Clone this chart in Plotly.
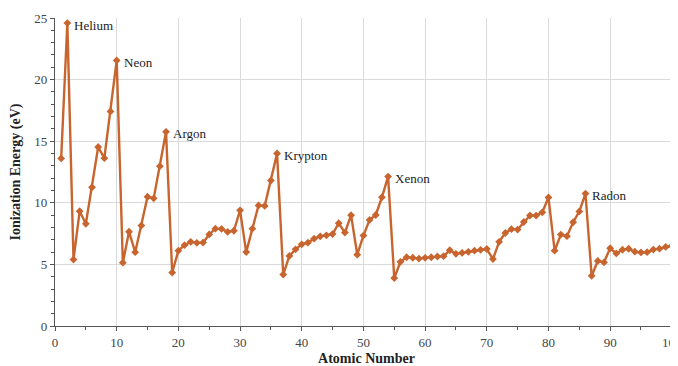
import plotly.graph_objects as go

atomic_number = list(range(1, 103))
ionization_ev = [
    13.60, 24.59, 5.39, 9.32, 8.30, 11.26, 14.53, 13.62, 17.42, 21.56,
    5.14, 7.65, 5.99, 8.15, 10.49, 10.36, 12.97, 15.76, 4.34, 6.11,
    6.56, 6.83, 6.75, 6.77, 7.43, 7.90, 7.88, 7.64, 7.73, 9.39,
    6.00, 7.90, 9.79, 9.75, 11.81, 14.00, 4.18, 5.69, 6.22, 6.63,
    6.76, 7.09, 7.28, 7.36, 7.46, 8.34, 7.58, 8.99, 5.79, 7.34,
    8.61, 9.01, 10.45, 12.13, 3.89, 5.21, 5.58, 5.54, 5.47, 5.53,
    5.58, 5.64, 5.67, 6.15, 5.86, 5.94, 6.02, 6.11, 6.18, 6.25,
    5.43, 6.83, 7.55, 7.86, 7.83, 8.44, 8.97, 8.96, 9.23, 10.44,
    6.11, 7.42, 7.29, 8.42, 9.30, 10.75, 4.07, 5.28, 5.17, 6.31,
    5.89, 6.19, 6.27, 6.03, 5.97, 5.99, 6.20, 6.28, 6.42, 6.50,
    6.58, 6.65,
]
label_numbers = [2, 10, 18, 36, 54, 86]
label_names = ["Helium", "Neon", "Argon", "Krypton", "Xenon", "Radon"]

color = "#C8652F"
serif = "Liberation Serif, Times New Roman, serif"

fig = go.Figure()
fig.add_trace(go.Scatter(
    x=atomic_number, y=ionization_ev, mode="lines+markers",
    line=dict(color=color, width=2.4),
    marker=dict(symbol="diamond", size=6, color=color),
    showlegend=False, hoverinfo="x+y",
))

for n, name in zip(label_numbers, label_names):
    fig.add_annotation(
        x=n, y=ionization_ev[n - 1], text=name, showarrow=False,
        xanchor="left", yanchor="middle", xshift=5, yshift=-2,
        font=dict(family=serif, size=13, color="#222"),
    )

axis_common = dict(
    showline=True, linecolor="#555", linewidth=1.2,
    ticks="outside", ticklen=4, tickcolor="#555",
    showgrid=True, gridcolor="#DADADA", gridwidth=1,
    zeroline=False, automargin=False, ticklabeloverflow="allow",
    tickfont=dict(family=serif, size=13, color="#444"),
)

# page body has an 8px default margin, so the figure is sized to end at the window edge
fig.update_layout(
    width=670, height=358,
    margin=dict(l=47, r=0, t=10, b=40),
    paper_bgcolor="white", plot_bgcolor="white",
    xaxis=dict(range=[0, 101], dtick=10,
               minor=dict(dtick=5, ticks="outside", ticklen=3, tickcolor="#555"),
               title=dict(text="<b>Atomic Number</b>", standoff=4,
                          font=dict(family=serif, size=14, color="#222")),
               **axis_common),
    yaxis=dict(range=[0, 25], dtick=5,
               minor=dict(dtick=1, ticks="outside", ticklen=3, tickcolor="#555"),
               title=dict(text="<b>Ionization Energy (eV)</b>", standoff=10,
                          font=dict(family=serif, size=14, color="#222")),
               **axis_common),
)

fig.write_html("out.html")
